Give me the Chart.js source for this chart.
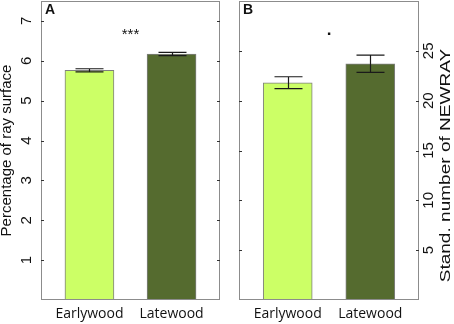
<!DOCTYPE html>
<html>
<head>
<meta charset="utf-8">
<script src="https://cdn.jsdelivr.net/npm/chart.js@4.4.1/dist/chart.umd.min.js"></script>
<style>
  body { margin: 0; background: #fff; }
  #wrap { position: relative; width: 454px; height: 324px; }
  canvas { position: absolute; top: 0; }
  #panelA { left: 0; }
  #panelB { left: 224px; }
</style>
</head>
<body>
<div id="wrap">
  <canvas id="panelA" width="224" height="324"></canvas>
  <canvas id="panelB" width="230" height="324"></canvas>
</div>
<script>
const categories = ["Earlywood", "Latewood"];
const barColors = ["#ccff66", "#556b2f"];

// panel A: percentage of ray surface
const raySurface = [5.76, 6.17];
const raySurfaceErr = [0.04, 0.04];
const ticksA = [1, 2, 3, 4, 5, 6, 7];

// panel B: stand. number of NEWRAY
const newRay = [21.8, 23.7];
const newRayErr = [0.6, 0.87];
const ticksB = [5, 10, 15, 20, 25];

const ARIAL = '"Liberation Sans", Arial, sans-serif';

const panelDecor = {
  id: "panelDecor",
  afterDraw(chart, args, o) {
    const { ctx, chartArea: a, scales: { x, y } } = chart;
    ctx.save();

    // error bars
    ctx.strokeStyle = "#1a1a1a";
    ctx.lineWidth = 1.2;
    ctx.beginPath();
    chart.data.datasets[0].data.forEach((d, i) => {
      const cx = Math.round(x.getPixelForValue(d.x)) + 0.5;
      const hi = y.getPixelForValue(d.y + o.errors[i]);
      const lo = y.getPixelForValue(d.y - o.errors[i]);
      ctx.moveTo(cx, hi); ctx.lineTo(cx, lo);
      ctx.moveTo(cx - 14, hi); ctx.lineTo(cx + 14, hi);
      ctx.moveTo(cx - 14, lo); ctx.lineTo(cx + 14, lo);
    });
    ctx.stroke();

    // frame + inward ticks
    ctx.strokeStyle = "#8c8c8c";
    ctx.lineWidth = 1;
    ctx.strokeRect(a.left + 0.5, a.top + 0.5, a.right - a.left - 1, a.bottom - a.top - 1);
    ctx.strokeStyle = "#333";
    ctx.beginPath();
    o.yTicks.forEach(v => {
      const py = Math.round(y.getPixelForValue(v)) + 0.5;
      ctx.moveTo(a.left, py); ctx.lineTo(a.left + 3, py);
      ctx.moveTo(a.right, py); ctx.lineTo(a.right - 3, py);
    });
    ctx.stroke();

    // rotated tick labels and axis title
    ctx.fillStyle = "#111";
    ctx.font = "15px " + ARIAL;
    ctx.textAlign = "center";
    ctx.textBaseline = "middle";
    const left = o.side === "left";
    const lx = left ? a.left - 14.5 : a.right + 10;
    const tx = left ? a.left - 34 : a.right + 26.5;
    o.yTicks.forEach(v => {
      ctx.save();
      ctx.translate(lx, y.getPixelForValue(v));
      ctx.rotate(-Math.PI / 2);
      ctx.fillText(String(v), 0, 0);
      ctx.restore();
    });
    ctx.save();
    ctx.translate(tx, (a.top + a.bottom) / 2 + o.titleShift);
    ctx.rotate(-Math.PI / 2);
    ctx.scale(o.titleStretch, 1);
    ctx.fillText(o.yTitle, 0, 0);
    ctx.restore();

    // significance mark between the bars
    ctx.textBaseline = "alphabetic";
    ctx.font = o.sigFont + " " + ARIAL;
    ctx.fillText(o.sig, x.getPixelForValue(1.5), a.top + o.sigDrop);

    // panel letter
    ctx.textAlign = "left";
    ctx.font = "bold 14px " + ARIAL;
    ctx.fillText(o.letter, a.left + 4, a.top + 12.5);
    ctx.restore();
  }
};

function makePanel(id, values, errs, yMax, yTicks, padding, decor) {
  return new Chart(document.getElementById(id), {
    type: "bar",
    data: {
      datasets: [{
        data: values.map((v, i) => ({ x: i + 1, y: v })),
        backgroundColor: barColors,
        borderColor: "#7f7f7f",
        borderWidth: 1,
        borderSkipped: false,
        barThickness: 49
      }]
    },
    options: {
      responsive: false,
      animation: false,
      devicePixelRatio: 1,
      layout: { padding: padding },
      plugins: {
        legend: { display: false },
        tooltip: { enabled: false },
        panelDecor: Object.assign({ errors: errs, yTicks: yTicks }, decor)
      },
      scales: {
        x: {
          type: "linear",
          min: 0.41,
          max: 2.59,
          offset: false,
          grid: { display: false, drawTicks: false },
          border: { display: false },
          ticks: {
            stepSize: 1,
            includeBounds: false,
            autoSkip: false,
            maxRotation: 0,
            padding: 6,
            color: "#111",
            font: { family: '"Open Sans", sans-serif', size: 14 },
            callback: v => categories[v - 1] || ""
          },
          afterFit: s => { s.height = 24; }
        },
        y: { display: false, min: 0, max: yMax }
      }
    },
    plugins: [panelDecor]
  });
}

makePanel("panelA", raySurface, raySurfaceErr, 7.5, ticksA,
  { left: 41, right: 4, top: 1, bottom: 0 },
  { side: "left", yTitle: "Percentage of ray surface", titleShift: 0, titleStretch: 1,
    sig: "***", sigFont: "15px", sigDrop: 38, letter: "A" });

makePanel("panelB", newRay, newRayErr, 30, ticksB,
  { left: 15, right: 35, top: 1, bottom: 0 },
  { side: "right", yTitle: "Stand. number of NEWRAY", titleShift: 15, titleStretch: 1.27,
    sig: ".", sigFont: "bold 17px", sigDrop: 34, letter: "B" });
</script>
</body>
</html>
